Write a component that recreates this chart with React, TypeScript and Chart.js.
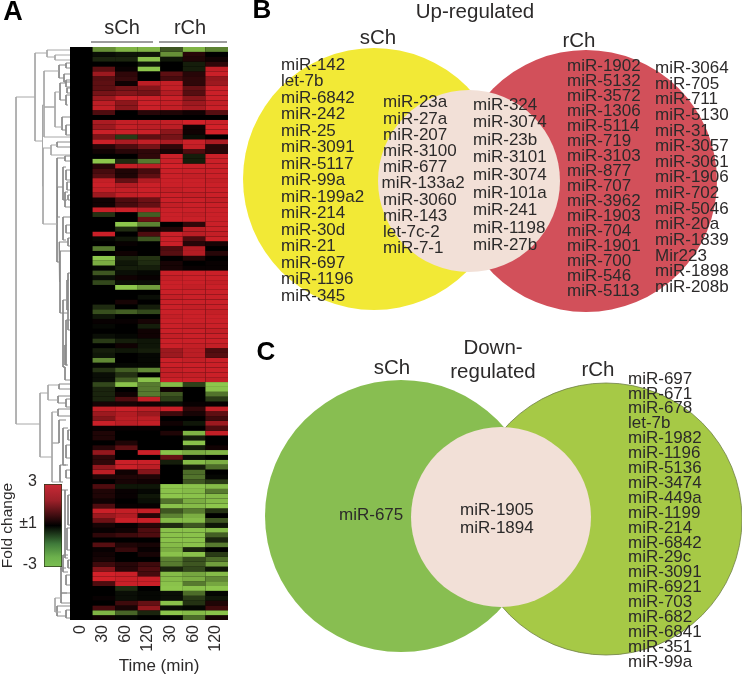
import React, { useEffect, useRef } from "react";
import { Chart, registerables } from "chart.js";

Chart.register(...registerables);

const timeLabels = ["0", "30", "60", "120", "30", "60", "120"];

const sChFold = [
  [-2,-2.5,-2.5],[-.2,-.3,-.3],[-.5,-.5,-2.7],[0,0,-.3],[1.2,.1,-2.8],[2,.6,0],[1.1,.7,0],[1.2,.2,2.4],[1.2,1.5,1.7],[1.5,1.7,1.5],
  [2,2.6,2.6],[2.4,1.8,2.6],[2.5,1.8,2.6],[1,0,.5],[0,0,0],[2.2,2.5,2.5],[2,2.5,2.4],[2.6,2.6,2.6],[1.6,-.8,1.2],[2.6,2.2,2.5],
  [.5,1,1.5],[.2,.5,.6],[0,0,.6],[-2.8,-.6,-1.7],[.5,2.5,2.4],[.9,.4,.9],[1.1,.4,1.2],[2.5,1.3,2.3],[2.6,2.3,2.6],[2.5,2.5,2.6],
  [2,2.5,2.6],[.2,1,1.4],[.2,.9,1.3],[2.6,2.6,2.4],[-.7,0,-1.3],[0,0,1.4],[0,-2.9,-1.8],[0,-.6,.2],[2.6,0,1],[-.1,-.3,-1.2],
  [0,.1,0],[-1.7,0,0],[0,.2,0],[-2.8,-.5,-.7],[-2.4,-.3,-.6],[-.1,-.4,-.4],[-1.2,-.2,-.1],[-.2,.2,.1],[-1,-.2,-.2],[0,-2.8,-2.2],
  [0,0,0],[0,0,-.2],[0,.3,0],[-.6,0,-.4],[-1.1,-1.3,-1],[-.3,0,0],[.1,.1,.3],[-.1,0,-.4],[0,0,.2],[-.2,-.1,.2],
  [-.8,-.4,-.3],[0,.2,-.3],[-.4,-.3,-.4],[-.3,0,-.1],[-1.9,0,-.1],[-.1,-.1,-.1],[-.7,-1.3,-1.9],[-.2,-.7,0],[-.2,-1.3,-2.7],[-1,-2.7,-1.7],
  [-.5,0,-1.7],[-.5,.2,-1.7],[-.5,1,2.5],[.3,.3,.2],[2.5,2.6,2.4],[2,2.3,2],[1.7,2.4,2.4],[2.6,2.4,2.5],[.1,.1,.1],[.4,0,0],
  [.4,0,0],[0,.4,0],[.5,1.2,0],[1.9,0,2.6],[.6,0,0],[.6,2.6,2.6],[1.9,2.6,2.4],[2.4,.2,1.7],[.4,.4,.4],[0,.3,.2],
  [1,-.3,-.3],[.4,.1,-.1],[.4,.1,-.3],[.2,0,-.2],[1,.1,.1],[2.6,2.5,2.5],[2,2.3,.5],[1.4,2.6,2.6],[.3,.1,.5],[.1,.2,1],
  [.6,.8,1],[0,0,0],[1.1,.4,.3],[.1,.7,.1],[.2,0,.3],[.3,0,0],[.8,.5,.8],[1.7,.5,1],[2.7,2.6,.9],[2.7,2.6,2.6],
  [1,2.6,2.6],[0,-.6,0],[0,-.2,-.1],[.1,-.2,-.1],[0,.8,1.3],[.9,.3,1.9],[-2.5,-1.4,-.5],[.2,-.1,0],
];

const rChFold = [
  [-1.2,-2.5,-1.8],[-2,.5,0],[-.3,.4,.2],[0,-.4,.6],[0,-.4,2.5],[1.2,.5,2.6],[.9,.6,1.9],[2.5,.6,2],[2.5,1.3,2.6],[2.3,1.1,2.6],
  [2.6,1.8,2.6],[2.5,2,2.5],[2.5,2.2,2.6],[.4,.2,1.1],[0,0,0],[2.5,2.7,2.6],[2.4,.2,2.7],[1.8,.2,2.7],[1.5,-.2,0],[2.2,2.6,2.2],
  [.6,2.5,.5],[.3,1,.5],[2.6,-.4,2.6],[2.6,-.4,2.6],[2.7,2.6,2.6],[2.6,2.6,2.6],[2.6,2.5,2.6],[2.6,2.6,2.5],[2.6,2.6,2.6],[2.5,2.6,2.6],
  [2.6,2.5,2.6],[2.6,2.6,2.5],[2.5,2.6,2.6],[2.6,2.6,2.6],[2.6,2.5,2.6],[2.6,2.6,2.6],[0,.6,2.6],[.4,2.4,2.6],[2.6,2.4,2.5],[2.6,1,2.6],
  [2.6,.5,.3],[1,2.3,0],[1.1,2.3,.5],[0,.4,0],[.3,0,.1],[.3,.1,.1],[2.6,2.6,2.6],[2.5,2.6,2.6],[2.6,2.6,2.5],[2.6,2.5,2.6],
  [2.6,2.6,2.6],[2.5,2.6,2.6],[2.6,2.6,2.6],[2.6,2.5,2.6],[2.6,2.6,2.5],[2.5,2.6,2.6],[2.6,2.6,2.6],[2.6,2.5,2.6],[2.6,2.6,2.5],[2.5,2.6,2.6],
  [2.6,2.6,2.6],[2.6,2.5,2.5],[2,2.4,1],[2,2.4,1.1],[2.6,2.5,2.6],[2.6,2.6,2.6],[2.5,2.6,2.6],[2.5,2.5,2.6],[2.6,2.6,2.5],[-2.6,-.9,-2.8],
  [.2,0,-2.7],[-1.2,0,-1.6],[-.9,0,-.8],[-.2,.1,.1],[2.6,.6,2.5],[.8,.3,1.2],[0,0,.8],[.2,-.3,2],[0,0,1],[.4,-2.5,2.5],
  [0,-.4,0],[0,-2.7,0],[0,-.4,.2],[-2.7,-2.4,-2.5],[1.3,-.2,0],[-.4,-2.6,-2.4],[0,-.4,-1.5],[0,-1.5,0],[0,-1.6,-.1],[0,-1.2,-.8],
  [-2.8,-2.7,-2.6],[-2.7,-2.6,-1.7],[-2.8,-2.7,-2.6],[-1.6,-2.4,-2.6],[-2.7,-2.6,-2.8],[-1.2,-1.7,-.7],[-1.8,-2.4,0],[-2.6,-2.6,-1.2],[-.6,-1.2,-.3],[-2.7,-2.7,-2.6],
  [-2.7,-2.7,-1.3],[-2.7,-2.7,-.5],[-2.6,-2.7,-1.7],[-2.4,-.5,0],[-2.7,-2.7,-.8],[-1.8,-1.1,-1.5],[-1.7,-1.2,-2.2],[-.5,-1,-.3],[-2.6,-2.3,-2.6],[-2.6,-2.4,-1.9],
  [-2.7,-1.7,-2.3],[-2.8,-2.7,-2.8],[-.2,-1.5,-.1],[-.2,-.8,-.3],[-2.7,-.7,.4],[-.2,-.1,.8],[-2.8,-2.6,-2.7],[-.1,-1.5,.3],
];

const upOnlySCh = ["miR-142","let-7b","miR-6842","miR-242","miR-25","miR-3091","miR-5117","miR-99a","miR-199a2","miR-214","miR-30d","miR-21","miR-697","miR-1196","miR-345"];
const upSharedLeft = ["miR-23a","miR-27a","miR-207","miR-3100","miR-677","miR-133a2","miR-3060","miR-143","let-7c-2","miR-7-1"];
const upSharedRight = ["miR-324","miR-3074","miR-23b","miR-3101","miR-3074","miR-101a","miR-241","miR-1198","miR-27b"];
const upOnlyRChLeft = ["miR-1902","miR-5132","miR-3572","miR-1306","miR-5114","miR-719","miR-3103","miR-877","miR-707","miR-3962","miR-1903","miR-704","miR-1901","miR-700","miR-546","miR-5113"];
const upOnlyRChRight = ["miR-3064","miR-705","miR-711","miR-5130","miR-31","miR-3057","miR-3061","miR-1906","miR-702","miR-5046","miR-20a","miR-1839","Mir223","miR-1898","miR-208b"];
const downOnlySCh = ["miR-675"];
const downShared = ["miR-1905","miR-1894"];
const downOnlyRCh = ["miR-697","miR-671","miR-678","let-7b","miR-1982","miR-1196","miR-5136","miR-3474","miR-449a","miR-1199","miR-214","miR-6842","miR-29c","miR-3091","miR-6921","miR-703","miR-682","miR-6841","miR-351","miR-99a"];

// Dendrogram merges: [merge x, branch y 1, branch y 2, child x 1, child x 2]
const dendrogram = [
  [16,97,424,35,40],[35,53,141,47,43],[47,50,57,70,55],[55,55,60,70,70],[43,148,224,51,57],[42.5,105,186,44,43],
  [44,71,107,59,55],[44,107,137,55,70],[59,65,78,66,64],[66,63,68,70,70],[64,74,82,70,70],[55,92,127,60,62],
  [60,83,100,66,66],[66,80,87,70,70],[67,88,93,70,70],[66,95,105,70,68],[62,117,130,70,66],[66,125,135,70,70],
  [51,145,155,57,70],[57,142,147,70,70],[57,158,262,65,59],[65,156,161,70,70],[63,167,200,66,67],[66,170,180,70,70],
  [67,182,190,70,70],[65,192,207,68,70],[68,195,200,70,70],[57.5,187,217,63,60],[63,217,240,70,66],[66,225,233,70,70],
  [59,242,282,68,60],[68,238,246,70,70],[60,251,313,70,68],[68,273,330,70,70],[67,280,310,69,69],[66,320,365,70,68],
  [65,345,365,67,67],[63,300,367,66,65],[65,367,380,63,70],[40,393,457,48,52],[48,385,400,59,58],[59,384,389,70,70],
  [58,396,403,70,66],[66,399,407,70,70],[52,412,482,58,60],[58,409,416,70,70],[59,420,443,66,52],[63,428,465,68,68],
  [68,430,440,70,70],[66,445,458,70,70],[60,465,482,66,63],[66,470,478,70,70],[61,490,570,65,63],[65,490,558,68,68],
  [68,495,525,70,70],[67,528,550,70,70],[63,555,572,68,68],[68,560,568,70,70],[61,568,593,66,67],[66,575,585,70,70],
  [55,598,612,61,61],[61,593,603,70,70],[57,606,616,70,66],[66,610,618,70,70],
];

const headerRules = [
  [91, 153, 42],
  [159, 227, 42],
];

const FONT = '"Liberation Sans", Arial, sans-serif';
const INK = "#2c2a2a";

function foldColor(v: number): string {
  const t = Math.min(1, Math.abs(v) / 2.75);
  return v >= 0
    ? `rgb(${Math.round(214 * t)},${Math.round(34 * t)},${Math.round(42 * t)})`
    : `rgb(${Math.round(141 * t)},${Math.round(198 * t)},${Math.round(76 * t)})`;
}

const listBlocks: [string[], number, number, number, number][] = [
  [upOnlySCh, 281, 65, 16.52, 17],
  [upSharedLeft, 383, 102.7, 16.2, 17],
  [upSharedRight, 473, 105, 17.6, 17],
  [upOnlyRChLeft, 567, 66.7, 15, 17],
  [upOnlyRChRight, 655, 68.3, 15.64, 17],
  [downOnlySCh, 339, 515, 18, 17],
  [downShared, 460, 510, 18, 17],
  [downOnlyRCh, 628, 379, 14.9, 17],
];

const captions: [string, number, number, number, boolean][] = [
  ["A", 13, 13, 27, true],
  ["B", 262, 11, 26, true],
  ["C", 266, 353, 26, true],
  ["sCh", 122, 28, 20, false],
  ["rCh", 190, 28, 20, false],
  ["Up-regulated", 475, 12, 20.5, false],
  ["sCh", 378, 38, 20.5, false],
  ["rCh", 579, 41, 20.5, false],
  ["Down-", 493, 348, 20.5, false],
  ["regulated", 493, 372, 20.5, false],
  ["sCh", 392, 368, 20.5, false],
  ["rCh", 598, 370, 20.5, false],
  ["Time (min)", 159, 666, 17, false],
];

const vennCircles: [number, number, number, string, number][] = [
  [469, 181, 91, "#f2e0d7", 0],
  [501, 517, 90, "#f2e0d7", 0],
  [586, 181, 131, "#d2505a", 0],
  [374, 179, 131, "#f2e936", 0],
  [606, 519, 136, "#a6c946", 0.8],
  [401, 516, 136, "#88be51", 0],
];

const textPlugin = {
  id: "panelText",
  afterDatasetsDraw(chart: any) {
    const { ctx, scales } = chart;
    ctx.save();
    ctx.fillStyle = INK;
    ctx.textBaseline = "middle";
    ctx.textAlign = "left";
    for (const [items, x, y, step, size] of listBlocks) {
      ctx.font = `${size}px ${FONT}`;
      items.forEach((label, i) => {
        const dx = label === "miR-133a2" ? -1.5 : 0;
        ctx.fillText(label, scales.x.getPixelForValue(x + dx), scales.y.getPixelForValue(y + i * step));
      });
    }
    ctx.textAlign = "center";
    for (const [label, x, y, size, bold] of captions) {
      ctx.font = `${bold ? "bold " : ""}${size}px ${FONT}`;
      ctx.fillStyle = bold ? "#000" : INK;
      ctx.fillText(label, scales.x.getPixelForValue(x), scales.y.getPixelForValue(y));
    }
    ctx.restore();
  },
};

const heatBackdrop = {
  id: "heatBackdrop",
  beforeDatasetsDraw(chart: any) {
    const { ctx, chartArea: a } = chart;
    ctx.save();
    ctx.fillStyle = "#000";
    ctx.fillRect(a.left, a.top, a.right - a.left, a.bottom - a.top);
    ctx.restore();
  },
};

export default function App() {
  const overlayRef = useRef<HTMLCanvasElement>(null);
  const heatRef = useRef<HTMLCanvasElement>(null);
  const barRef = useRef<HTMLCanvasElement>(null);

  useEffect(() => {
    const quiet = { legend: { display: false }, tooltip: { enabled: false }, title: { display: false } };

    const lineSets = dendrogram.map(([x, y1, y2, c1, c2]) => ({
      type: "scatter",
      showLine: true,
      pointRadius: 0,
      borderWidth: 1,
      borderColor: x > 56 ? "#8a8a8a" : "#a8a8a8",
      data: [{ x: c1, y: y1 }, { x, y: y1 }, { x, y: y2 }, { x: c2, y: y2 }],
    }));
    const ruleSets = headerRules.map(([a, b, y]) => ({
      type: "scatter",
      showLine: true,
      pointRadius: 0,
      borderWidth: 1,
      borderColor: "#3a3a3a",
      data: [{ x: a, y }, { x: b, y }],
    }));
    const circleSets = vennCircles.map(([x, y, r, color, edge]) => ({
      type: "bubble",
      backgroundColor: color,
      borderColor: "#6e7f45",
      borderWidth: edge,
      data: [{ x, y, r }],
    }));

    const overlay = new Chart(overlayRef.current!, {
      type: "bubble",
      data: { datasets: [...ruleSets, ...lineSets, ...circleSets] as any },
      options: {
        responsive: false,
        animation: false,
        events: [],
        layout: { padding: 0, autoPadding: false },
        plugins: quiet,
        scales: {
          x: { type: "linear", min: 0, max: 742, display: false },
          y: { type: "linear", min: 0, max: 676, reverse: true, display: false },
        },
      } as any,
      plugins: [textPlugin],
    });

    const heatSets = sChFold.map((row, i) => ({
      data: timeLabels.map(() => 1),
      backgroundColor: [0, ...row, ...rChFold[i]].map(foldColor),
      borderWidth: 0,
      inflateAmount: 0,
      barPercentage: 1,
      categoryPercentage: 1,
    }));

    const heat = new Chart(heatRef.current!, {
      type: "bar",
      data: { labels: timeLabels, datasets: heatSets as any },
      options: {
        responsive: false,
        animation: false,
        events: [],
        layout: { padding: { left: 70, top: 47, right: 514, bottom: 0 } },
        plugins: quiet,
        scales: {
          x: {
            stacked: true,
            grid: { display: false, drawTicks: false },
            border: { display: false },
            afterFit: (s: any) => { s.height = 56; },
            ticks: {
              autoSkip: false,
              minRotation: 90,
              maxRotation: 90,
              labelOffset: -1,
              padding: 5,
              color: INK,
              font: { family: FONT, size: 16 },
            },
          },
          y: { stacked: true, min: 0, max: sChFold.length, reverse: true, display: false },
        },
      } as any,
      plugins: [heatBackdrop],
    });

    const bar = new Chart(barRef.current!, {
      type: "bar",
      data: {
        labels: ["Fold change"],
        datasets: [{
          data: [[-3, 3]],
          barPercentage: 1,
          categoryPercentage: 1,
          borderWidth: 1,
          borderColor: "#2d3a1a",
          borderSkipped: false,
          backgroundColor: (c: any) => {
            const area = c.chart.chartArea;
            if (!area) return "#000";
            const g = c.chart.ctx.createLinearGradient(0, area.top, 0, area.bottom);
            g.addColorStop(0, "#c92a36");
            g.addColorStop(0.2, "#9c2029");
            g.addColorStop(0.5, "#000000");
            g.addColorStop(0.72, "#3f7a3a");
            g.addColorStop(0.88, "#6cb04c");
            g.addColorStop(1, "#7bbf52");
            return g;
          },
        }] as any,
      },
      options: {
        responsive: false,
        animation: false,
        events: [],
        layout: { padding: { top: 24, bottom: 23, right: 8, left: 0 } },
        plugins: quiet,
        scales: {
          x: { display: false },
          y: {
            min: -3,
            max: 3,
            afterFit: (s: any) => { s.width = 44; },
            grid: { display: false, drawTicks: false },
            border: { display: false },
            title: {
              display: true,
              text: "Fold change",
              color: INK,
              font: { family: FONT, size: 15.5, lineHeight: 1 },
              padding: { top: 0, bottom: 0 },
            },
            ticks: {
              stepSize: 3,
              labelOffset: -2,
              padding: 7,
              color: INK,
              font: { family: FONT, size: 16 },
              callback: (v: number) => (v === 0 ? "±1" : String(v)),
            },
          },
        },
      } as any,
    });

    return () => {
      overlay.destroy();
      heat.destroy();
      bar.destroy();
    };
  }, []);

  const pos = { position: "absolute", left: 0, top: 0 } as const;
  return (
    <div style={{ position: "absolute", left: 0, top: 0, width: 742, height: 676, overflow: "hidden", background: "#fff" }}>
      <canvas ref={overlayRef} width={742} height={676} style={pos} />
      <canvas ref={heatRef} width={742} height={676} style={pos} />
      <canvas ref={barRef} width={70} height={130} style={{ ...pos, top: 460 }} />
    </div>
  );
}
